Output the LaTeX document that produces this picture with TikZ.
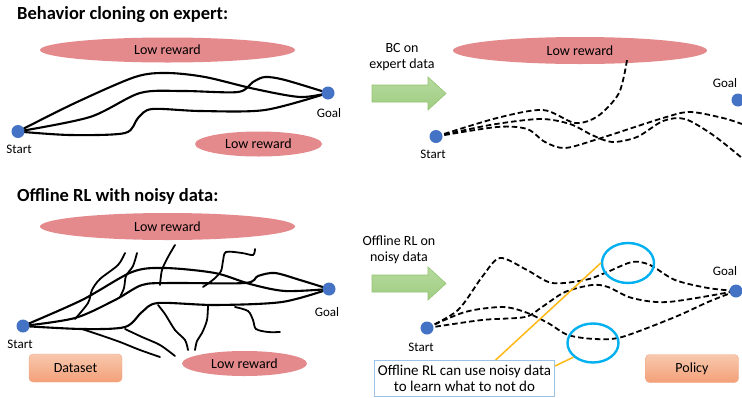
\documentclass[tikz,border=0pt]{standalone}
\usepackage{fontspec}
\setmainfont{Carlito}
\usetikzlibrary{positioning,calc,shapes.geometric}
\definecolor{RewardPink}{RGB}{228,137,140}
\definecolor{DotBlue}{RGB}{68,114,196}
\definecolor{ArrowGreen}{RGB}{160,205,130}
\definecolor{ArrowLight}{RGB}{182,218,158}
\definecolor{ArrowEdge}{RGB}{145,195,112}
\definecolor{BoxTop}{RGB}{248,200,174}
\definecolor{BoxBottom}{RGB}{243,160,120}
\definecolor{BoxEdge}{RGB}{240,170,135}
\definecolor{RingBlue}{RGB}{0,176,240}
\definecolor{NoteEdge}{RGB}{157,195,230}
\definecolor{LeadOrange}{RGB}{255,185,20}
\tikzset{
  headline/.style={anchor=base west,inner sep=0,font=\fontsize{18.5}{22}\selectfont\bfseries},
  reward/.style={ellipse,fill=RewardPink,inner sep=0,font=\fontsize{14}{17}\selectfont},
  dot/.style={circle,fill=DotBlue,minimum size=13,inner sep=0},
  tag/.style={inner sep=0,font=\fontsize{13}{15}\selectfont},
  caption/.style={inner sep=0,align=center,font=\fontsize{14}{16}\selectfont},
  trail/.style={line width=2.1pt,black,line cap=round},
  dtrail/.style={line width=1.8pt,black,dash pattern=on 5.5pt off 3pt},
  branch/.style={line width=1.8pt,black,line cap=round},
  databox/.style={rounded corners=4,top color=BoxTop,bottom color=BoxBottom,draw=BoxEdge,
    minimum width=93,minimum height=28,font=\fontsize{14}{17}\selectfont},
  ring/.style={ellipse,draw=RingBlue,line width=2.4pt,inner sep=0},
  note/.style={draw=NoteEdge,line width=1pt,fill=white,align=center,inner sep=0,
    minimum width=180,minimum height=36,font=\fontsize{15}{16}\selectfont},
  lead/.style={draw=LeadOrange,line width=1.5pt},
  bigarrow/.style={top color=ArrowLight,bottom color=ArrowGreen,draw=ArrowEdge,line width=0.6pt}
}
\begin{document}
\begin{tikzpicture}[x=1pt,y=-1pt]
  \clip (0,0) rectangle (742,397);
  \fill[white] (0,0) rectangle (742,397);

  % behavior cloning, data
  \node[headline] (title1) at (17,19) {Behavior cloning on expert:};
  \node[reward,minimum width=255,minimum height=25] (low1) at (167.5,50) {Low reward};
  \node[reward,minimum width=127,minimum height=25] (low2) at (258.5,144) {Low reward};
  \coordinate (start1) at (18,131.5);
  \coordinate (goal1) at (328,93);
  \draw[trail] plot[smooth] coordinates {(start1) (75,103) (135,77) (167,73) (205,77) (255,89) (300,97) (goal1)};
  \draw[trail] plot[smooth] coordinates {(start1) (90,117) (140,93) (183,91) (238,92) (253,82) (265,77) (285,80) (goal1)};
  \draw[trail] plot[smooth] coordinates {(start1) (70,135) (125,133) (138,118) (152,109) (200,111) (265,110) (goal1)};
  \node[dot] (startdot1) at (start1) {};
  \node[dot] (goaldot1) at (goal1) {};
  \node[tag] (startlbl1) at (19,149) {Start};
  \node[tag] (goallbl1) at (329,113) {Goal};

  % behavior cloning, policy
  \path[bigarrow] (372,85) -- (428,85) -- (428,77) -- (446,93.5) -- (428,110) -- (428,102) -- (372,102) -- cycle;
  \node[caption] (bclbl) at (402,57) {BC on\\expert data};
  \node[reward,minimum width=254,minimum height=27] (low3) at (580,50.5) {Low reward};
  \coordinate (start2) at (436,136.5);
  \coordinate (goal2) at (738,100);
  \draw[dtrail] plot[smooth] coordinates {(start2) (497,118) (543,110) (575,123) (598,116) (619,93) (627,60)};
  \draw[dtrail] plot[smooth] coordinates {(start2) (490,125) (540,119) (570,124) (592,135) (612,142) (637,137) (663,121) (685,119) (713,135) (742,158)};
  \draw[dtrail] plot[smooth] coordinates {(start2) (497,127) (527,129) (545,142) (565,148) (598,139) (663,118) (690,112) (723,118) (742,124)};
  \node[dot] (startdot2) at (start2) {};
  \node[dot] (goaldot2) at (goal2) {};
  \node[tag] (startlbl2) at (433,154) {Start};
  \node[tag] (goallbl2) at (725,83) {Goal};

  % offline RL, data
  \node[headline] (title2) at (17,201) {Offline RL with noisy data:};
  \node[reward,minimum width=255,minimum height=27] (low4) at (167.5,226.5) {Low reward};
  \node[reward,minimum width=125,minimum height=25] (low5) at (244.5,363.5) {Low reward};
  \coordinate (start3) at (23,326);
  \coordinate (goal3) at (329,289);
  \draw[trail] plot[smooth] coordinates {(start3) (82,300) (132,272) (165,268) (215,273) (250,284) (285,291) (goal3)};
  \draw[trail] plot[smooth] coordinates {(start3) (75,318) (115,300) (142,285) (170,283) (245,283) (258,276) (275,273) (300,280) (goal3)};
  \draw[trail] plot[smooth] coordinates {(start3) (82,329) (125,327) (142,312) (158,303) (215,305) (282,302) (goal3)};
  \draw[branch] plot[smooth] coordinates {(125,253) (118,265) (100,279) (92,290) (88,303) (75,319)};
  \draw[branch] plot[smooth] coordinates {(137,253) (133,266) (126,276) (124,288) (120,297)};
  \draw[branch] plot[smooth] coordinates {(175,245) (168,257) (162,270) (160,285)};
  \draw[branch] plot[smooth] coordinates {(255,249) (253,255) (242,253) (226,252) (223,261) (221,271) (214,279) (203,287)};
  \draw[branch] plot[smooth] coordinates {(158,305) (165,314) (175,330) (185,340) (188,350)};
  \draw[branch] plot[smooth] coordinates {(208,305) (207,320) (202,333) (197,341) (195,350)};
  \draw[branch] plot[smooth] coordinates {(235,307) (248,311) (253,320) (256,329) (268,332) (280,332)};
  \draw[branch] plot[smooth] coordinates {(125,329) (142,337) (160,345) (175,356)};
  \draw[branch] plot[smooth] coordinates {(82,329) (100,335) (120,342) (140,350) (160,357)};
  \node[dot] (startdot3) at (start3) {};
  \node[dot] (goaldot3) at (goal3) {};
  \node[tag] (startlbl3) at (20,344) {Start};
  \node[tag] (goallbl3) at (327,312) {Goal};
  \node[databox] (dataset) at (75.5,368) {Dataset};

  % offline RL, policy
  \path[bigarrow] (372,275) -- (428,275) -- (428,267) -- (446,283.5) -- (428,300) -- (428,292) -- (372,292) -- cycle;
  \node[caption] (rllbl) at (399,250) {Offline RL on\\noisy data};
  \coordinate (start4) at (427,328);
  \coordinate (goal4) at (736,291);
  \draw[dtrail] plot[smooth] coordinates {(start4) (458,310) (482,277) (500,258) (527,270) (552,283) (585,280) (605,273) (632,262) (650,265) (675,280) (708,288) (goal4)};
  \draw[dtrail] plot[smooth] coordinates {(start4) (482,320) (525,317) (542,307) (565,292) (592,285) (608,287) (632,298) (668,302) (goal4)};
  \draw[dtrail] plot[smooth] coordinates {(start4) (465,312) (502,307) (525,312) (548,323) (568,335) (595,339) (622,337) (675,317) (708,302) (goal4)};
  \node[dot] (startdot4) at (start4) {};
  \node[dot] (goaldot4) at (goal4) {};
  \node[tag] (startlbl4) at (421,347) {Start};
  \node[tag] (goallbl4) at (725,271) {Goal};
  \node[ring,minimum width=52,minimum height=40] (ring1) at (628,263) {};
  \node[ring,minimum width=51,minimum height=39] (ring2) at (593,343) {};
  \node[note,anchor=north west] (advice) at (374,360) {Offline RL can use noisy data\\to learn what to not do};
  \draw[lead] (ring1.west) -- ($(advice.north west)!0.672!(advice.north east)$);
  \draw[lead] (ring2.216) -- ($(advice.north east)+(0,6)$);
  \node[databox] (policy) at (692,368.5) {Policy};
\end{tikzpicture}
\end{document}
